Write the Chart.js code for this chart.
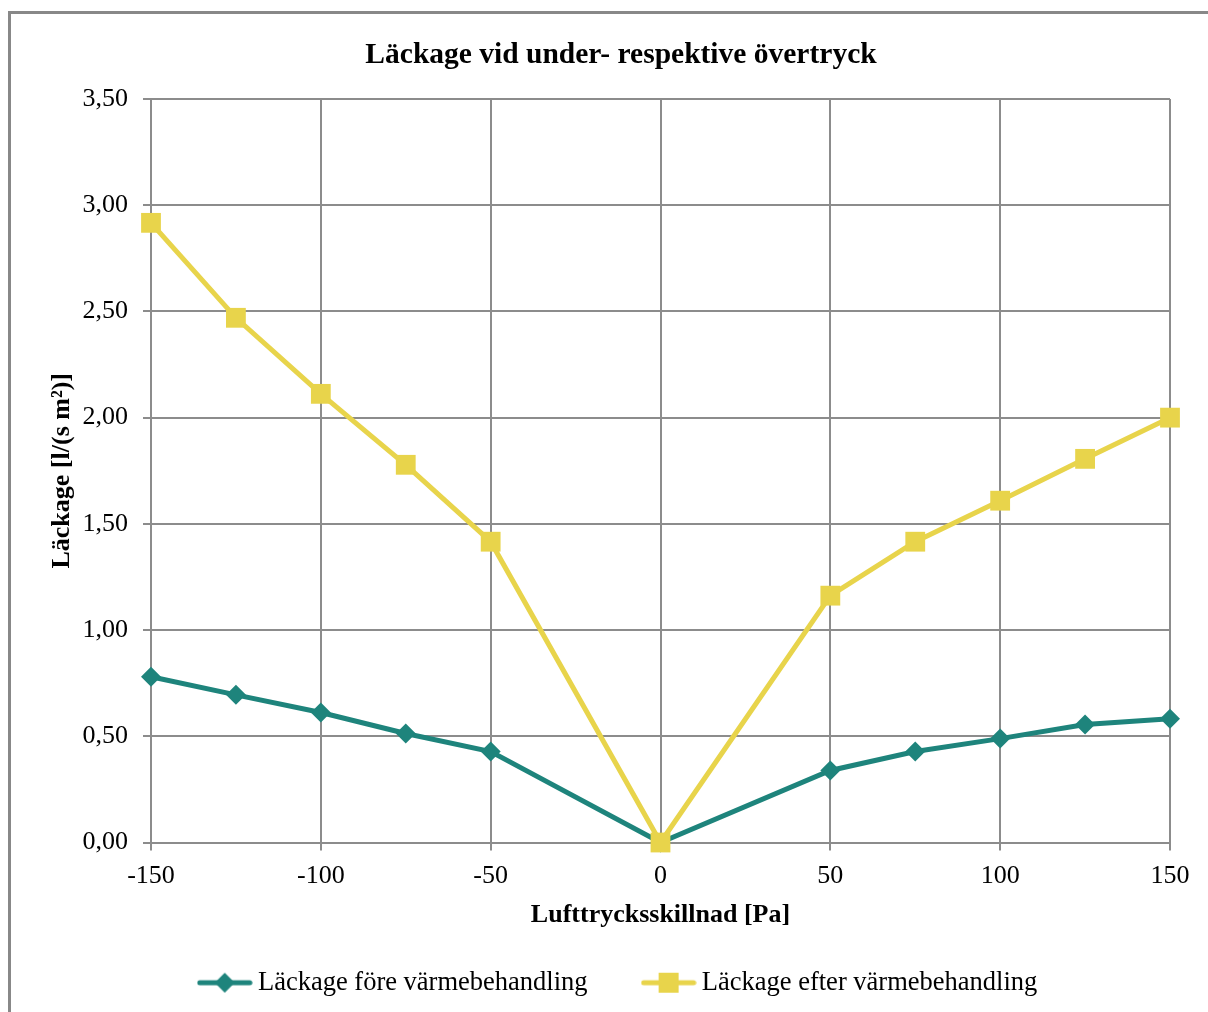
<!DOCTYPE html>
<html>
<head>
<meta charset="utf-8">
<script src="https://cdn.jsdelivr.net/npm/chart.js@4.4.1/dist/chart.umd.min.js"></script>
<style>
  html, body { margin: 0; padding: 0; background: #fff; }
  canvas { display: block; }
</style>
</head>
<body>
<canvas id="chart" width="1208" height="1012"></canvas>
<script>
// pressure difference [Pa]
const pressure = [-150, -125, -100, -75, -50, 0, 50, 75, 100, 125, 150];
const leakBefore = [0.78, 0.695, 0.612, 0.513, 0.428, 0, 0.339, 0.428, 0.489, 0.555, 0.583];
const leakAfter = [2.917, 2.47, 2.112, 1.778, 1.416, 0, 1.162, 1.416, 1.609, 1.806, 2.0];
const xTicks = [-150, -100, -50, 0, 50, 100, 150];
const yTicks = [0, 0.5, 1, 1.5, 2, 2.5, 3, 3.5];

const seriesNames = ['Läckage före värmebehandling', 'Läckage efter värmebehandling'];
const teal = '#1e847c';
const yellow = '#e8d44b';
const gridColor = '#8c8c8c';
const serif = '"Liberation Serif", "Times New Roman", serif';

function toPoints(ys) {
  return pressure.map((x, i) => ({ x: x, y: ys[i] }));
}

// small canvas with line + marker for the legend (excel style)
function legendSymbol(color, shape) {
  const c = document.createElement('canvas');
  c.width = 56; c.height = 24;
  const g = c.getContext('2d');
  g.strokeStyle = color;
  g.lineWidth = 5;
  g.lineCap = 'round';
  g.beginPath();
  g.moveTo(3, 12); g.lineTo(53, 12);
  g.stroke();
  g.fillStyle = color;
  if (shape === 'diamond') {
    g.beginPath();
    g.moveTo(28, 2); g.lineTo(38, 12); g.lineTo(28, 22); g.lineTo(18, 12);
    g.closePath();
    g.fill();
  } else {
    g.fillRect(18, 2, 20, 20);
  }
  return c;
}

const symbols = [legendSymbol(teal, 'diamond'), legendSymbol(yellow, 'square')];

const frame = {
  id: 'frame',
  beforeDraw(chart) {
    const ctx = chart.ctx;
    ctx.save();
    ctx.fillStyle = '#fff';
    ctx.fillRect(0, 0, chart.width, chart.height);
    ctx.strokeStyle = '#888';
    ctx.lineWidth = 3;
    ctx.strokeRect(9.5, 12.5, chart.width + 20, chart.height + 20);
    ctx.restore();
  }
};

const LEFT = 72;

new Chart(document.getElementById('chart'), {
  type: 'line',
  data: {
    datasets: [
      {
        label: seriesNames[0],
        data: toPoints(leakBefore),
        borderColor: teal,
        backgroundColor: teal,
        borderWidth: 5,
        pointStyle: 'rectRot',
        pointRadius: 10,
        pointBorderWidth: 0,
        order: 1,
        clip: false
      },
      {
        label: seriesNames[1],
        data: toPoints(leakAfter),
        borderColor: yellow,
        backgroundColor: yellow,
        borderWidth: 5,
        pointStyle: 'rect',
        pointRadius: 14,
        pointBorderWidth: 0,
        order: 0,
        clip: false
      }
    ]
  },
  options: {
    responsive: false,
    animation: false,
    layout: { padding: { left: LEFT, right: 38, top: 0, bottom: 6 } },
    plugins: {
      tooltip: { enabled: false },
      title: {
        display: true,
        text: 'Läckage vid under- respektive övertryck',
        color: '#000',
        font: { family: serif, size: 29.5, weight: 'bold', lineHeight: 1.2 },
        padding: { top: 37.3, bottom: 26.3 }
      },
      legend: {
        position: 'bottom',
        labels: {
          color: '#000',
          font: { family: serif, size: 26.5 },
          usePointStyle: true,
          pointStyleWidth: 40,
          padding: 61,
          generateLabels(chart) {
            return chart.data.datasets.map((ds, i) => ({
              text: ds.label,
              pointStyle: symbols[i],
              fillStyle: ds.borderColor,
              strokeStyle: ds.borderColor,
              lineWidth: 0,
              fontColor: '#000',
              hidden: false,
              datasetIndex: i
            }));
          }
        }
      }
    },
    scales: {
      x: {
        type: 'linear',
        min: -150,
        max: 150,
        afterBuildTicks(axis) { axis.ticks = xTicks.map(v => ({ value: v })); },
        afterFit(axis) { axis.height = 66; },
        grid: { color: gridColor, lineWidth: 2, tickLength: 8, drawTicks: true },
        border: { color: gridColor, width: 2 },
        ticks: {
          color: '#000',
          font: { family: serif, size: 26 },
          padding: 10,
          maxRotation: 0
        },
        title: {
          display: true,
          text: 'Lufttrycksskillnad [Pa]',
          color: '#000',
          font: { family: serif, size: 26, weight: 'bold', lineHeight: 1.2 },
          padding: { top: 0, bottom: -22 }
        }
      },
      y: {
        min: 0,
        max: 3.5,
        afterBuildTicks(axis) { axis.ticks = yTicks.map(v => ({ value: v })); },
        afterFit(axis) { axis.width = 151 - LEFT; },
        grid: { color: gridColor, lineWidth: 2, tickLength: 8, drawTicks: true },
        border: { color: gridColor, width: 2 },
        ticks: {
          color: '#000',
          font: { family: serif, size: 26 },
          padding: 15,
          callback: v => v.toFixed(2).replace('.', ',')
        },
        title: {
          display: true,
          text: 'Läckage [l/(s m²)]',
          color: '#000',
          font: { family: serif, size: 26, weight: 'bold', lineHeight: 1.2 },
          padding: { top: 62 - LEFT - 15.6, bottom: 0 }
        }
      }
    }
  },
  plugins: [frame]
});
</script>
</body>
</html>
